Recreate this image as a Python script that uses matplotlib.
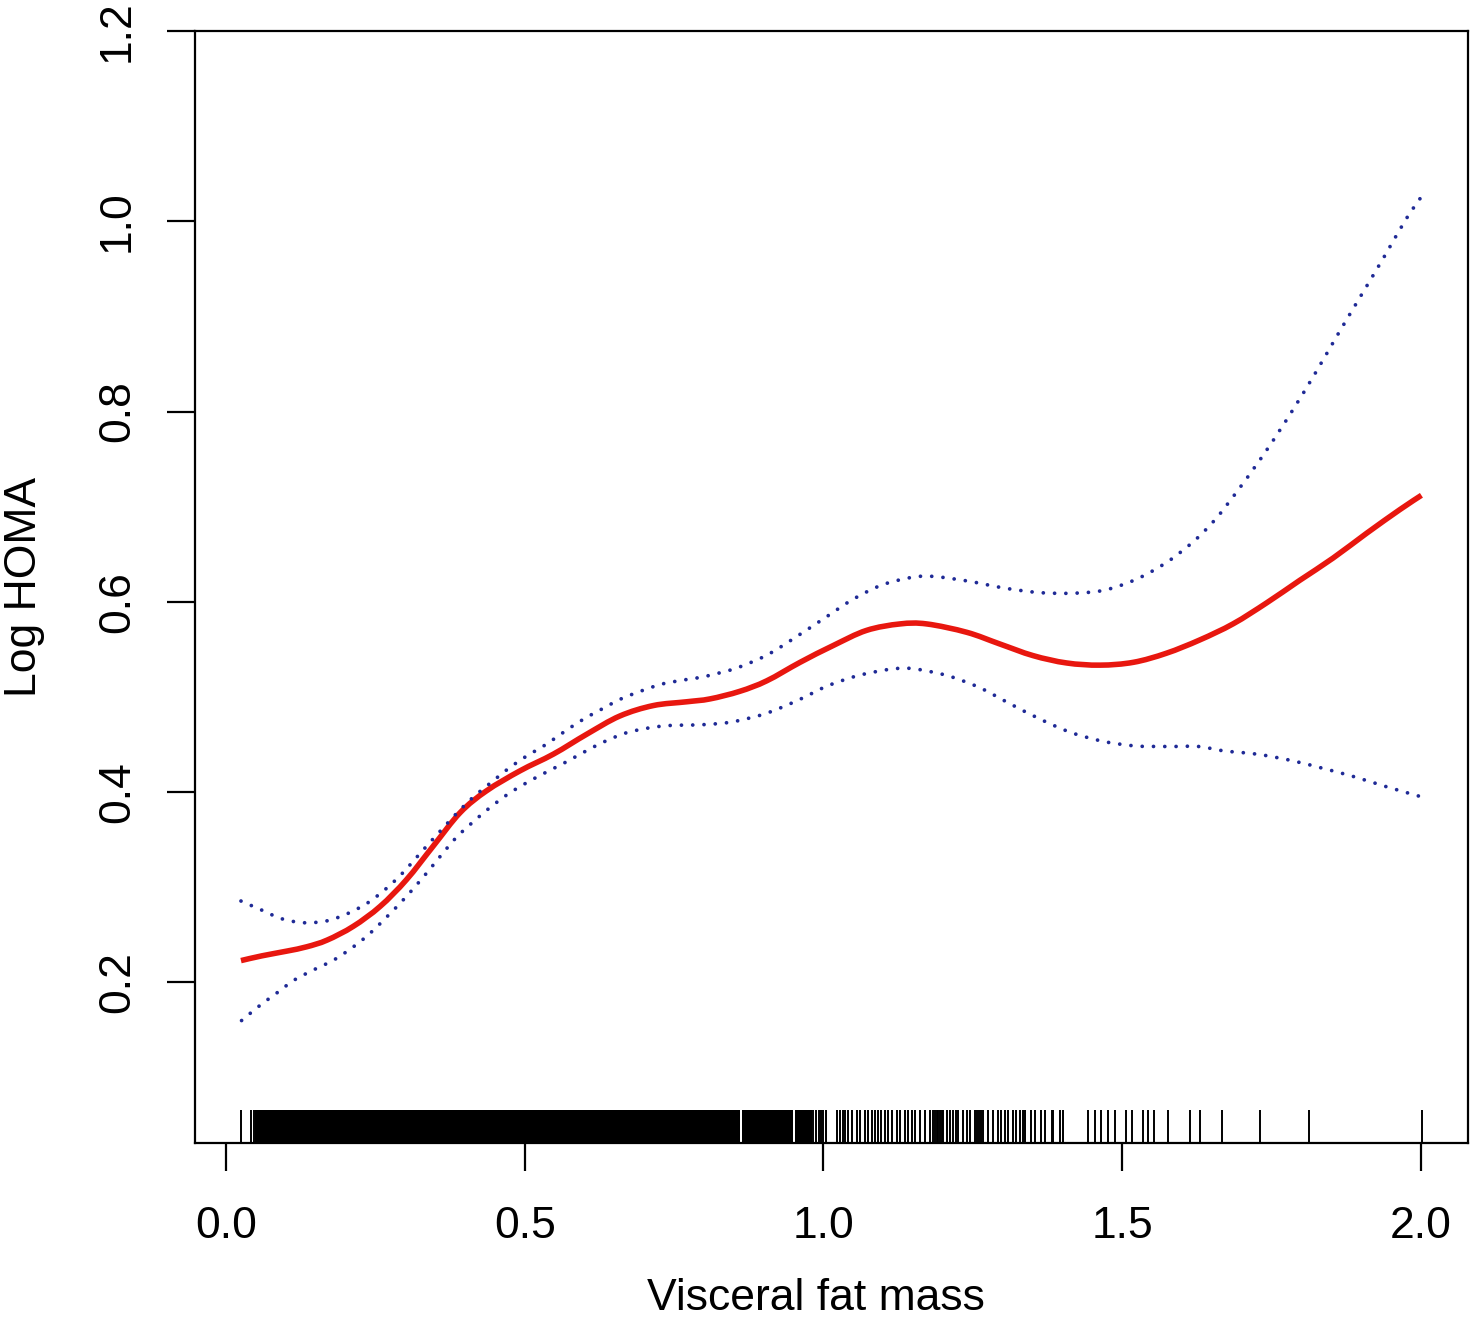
import numpy as np
import matplotlib
matplotlib.use('Agg')
import matplotlib.pyplot as plt
from matplotlib.path import Path
from matplotlib.patches import PathPatch

plt.rcParams['font.family'] = ['Liberation Sans', 'DejaVu Sans']

# curva stimata (rossa)
fit_x = [0.025, 0.060, 0.102, 0.135, 0.169, 0.213, 0.258, 0.302, 0.347, 0.392,
		 0.436, 0.492, 0.548, 0.604, 0.659, 0.715, 0.771, 0.810, 0.860, 0.905,
		 0.961, 1.016, 1.072, 1.128, 1.173, 1.240, 1.295, 1.351, 1.407, 1.463,
		 1.519, 1.574, 1.630, 1.686, 1.742, 1.797, 1.853, 1.909, 1.965, 2.001]
fit_y = [0.223, 0.228, 0.233, 0.2375, 0.2445, 0.259, 0.280, 0.308, 0.3435, 0.3786,
		 0.4014, 0.4224, 0.440, 0.461, 0.480, 0.491, 0.495, 0.498, 0.506, 0.517,
		 0.5365, 0.554, 0.570, 0.5768, 0.5768, 0.568, 0.5558, 0.5435, 0.5358, 0.5335,
		 0.5365, 0.546, 0.560, 0.577, 0.599, 0.6225, 0.646, 0.672, 0.697, 0.712]

# limite superiore (blu, punteggiato)
up_x = [0.025, 0.060, 0.093, 0.129, 0.167, 0.202, 0.235, 0.263, 0.291, 0.315,
		0.340, 0.364, 0.389, 0.416, 0.445, 0.473, 0.503, 0.534, 0.565, 0.596,
		0.628, 0.661, 0.696, 0.730, 0.767, 0.803, 0.857, 0.908, 0.955, 1.002,
		1.049, 1.099, 1.154, 1.191, 1.246, 1.301, 1.357, 1.411, 1.468, 1.521,
		1.570, 1.615, 1.655, 1.700, 1.743, 1.784, 1.823, 1.861, 1.899, 1.938,
		1.975, 2.000]
up_y = [0.2856, 0.276, 0.267, 0.2628, 0.2645, 0.272, 0.2828, 0.296, 0.312, 0.3287,
		0.3463, 0.3628, 0.3797, 0.396, 0.4108, 0.425, 0.4379, 0.4495, 0.463, 0.4758,
		0.487, 0.498, 0.5066, 0.5137, 0.518, 0.5218, 0.531, 0.545, 0.5635, 0.583,
		0.6025, 0.618, 0.6263, 0.6263, 0.6214, 0.6147, 0.610, 0.609, 0.6120, 0.623,
		0.6397, 0.661, 0.686, 0.7225, 0.7605, 0.800, 0.840, 0.881, 0.921, 0.962,
		1.002, 1.025]

# limite inferiore (blu, punteggiato)
low_x = [0.026, 0.055, 0.085, 0.114, 0.148, 0.180, 0.211, 0.239, 0.266, 0.291,
		 0.315, 0.340, 0.363, 0.387, 0.414, 0.442, 0.472, 0.502, 0.535, 0.567,
		 0.600, 0.633, 0.668, 0.703, 0.739, 0.777, 0.815, 0.852, 0.905, 0.958,
		 1.008, 1.061, 1.116, 1.153, 1.208, 1.261, 1.310, 1.360, 1.411, 1.464,
		 1.520, 1.577, 1.628, 1.669, 1.725, 1.781, 1.834, 1.888, 1.941, 1.996]
low_y = [0.160, 0.175, 0.189, 0.2025, 0.2137, 0.2235, 0.2365, 0.2505, 0.267, 0.283,
		 0.2997, 0.3182, 0.336, 0.3534, 0.369, 0.3839, 0.398, 0.4095, 0.4207, 0.431,
		 0.4424, 0.453, 0.462, 0.467, 0.470, 0.4705, 0.4716, 0.4744, 0.483, 0.4968,
		 0.512, 0.523, 0.5295, 0.5295, 0.5224, 0.510, 0.4937, 0.4776, 0.4635, 0.454,
		 0.4487, 0.448, 0.448, 0.4435, 0.440, 0.4336, 0.4254, 0.4163, 0.406, 0.396]

# rug: tratti fitti (intervalli pieni) e tratti singoli
rug_dense = [(0.049, 0.861), (0.864, 0.949), (0.952, 0.981)]
rug_single = [0.025, 0.041, 0.046,
			  0.983, 0.987, 0.992, 0.996, 0.999, 1.004, 1.022, 1.027, 1.032, 1.036,
			  1.041, 1.047, 1.056, 1.061, 1.069, 1.074, 1.081, 1.086, 1.091, 1.097,
			  1.103, 1.108, 1.114, 1.123, 1.128, 1.136, 1.141, 1.148, 1.153, 1.162,
			  1.170, 1.178, 1.183, 1.187, 1.190, 1.192, 1.195, 1.198, 1.200, 1.206,
			  1.212, 1.217, 1.222, 1.225, 1.233, 1.240, 1.245, 1.254, 1.257, 1.260,
			  1.264, 1.267, 1.275, 1.284, 1.292, 1.298, 1.304, 1.309, 1.317, 1.323,
			  1.329, 1.334, 1.337, 1.348, 1.354, 1.365, 1.371, 1.382, 1.384, 1.396,
			  1.401, 1.443, 1.454, 1.465, 1.476, 1.488, 1.506, 1.517, 1.535, 1.543,
			  1.554, 1.576, 1.613, 1.631, 1.667, 1.731, 1.812, 2.002]

x_ticks = [0.0, 0.5, 1.0, 1.5, 2.0]
y_ticks = [0.2, 0.4, 0.6, 0.8, 1.0, 1.2]


def curva_liscia(x, y):
	"""Path Bezier (Catmull-Rom) che passa per i punti letti."""
	p = np.column_stack([x, y]).astype(float)
	p_ext = np.vstack([p[0], p, p[-1]])
	verts = [p[0]]
	codes = [Path.MOVETO]
	for i in range(1, len(p_ext) - 2):
		c1 = p_ext[i] + (p_ext[i + 1] - p_ext[i - 1]) / 6
		c2 = p_ext[i + 1] - (p_ext[i + 2] - p_ext[i]) / 6
		verts += [c1, c2, p_ext[i + 1]]
		codes += [Path.CURVE4] * 3
	return Path(verts, codes)


fig = plt.figure(figsize=(14.76, 13.17), dpi=100)
ax = fig.add_axes([0.1321, 0.1319, 0.8625, 0.8446])

blu = '#1f2a96'
ax.add_patch(PathPatch(curva_liscia(fit_x, fit_y), fill=False, edgecolor='#e8170f', lw=4.0, capstyle='butt'))
ax.add_patch(PathPatch(curva_liscia(up_x, up_y), fill=False, edgecolor=blu, lw=2.7,
					   linestyle=(0, (0.01, 3.0)), capstyle='round'))
ax.add_patch(PathPatch(curva_liscia(low_x, low_y), fill=False, edgecolor=blu, lw=2.7,
					   linestyle=(0, (0.01, 3.0)), capstyle='round'))

trans = ax.get_xaxis_transform()
for x0, x1 in rug_dense:
	ax.axvspan(x0, x1, ymin=0, ymax=0.0297, color='black', lw=0)
ax.vlines(rug_single, 0, 0.0297, transform=trans, color='black', lw=1.4)

ax.set_xlim(-0.052, 2.079)
ax.set_ylim(0.031, 1.2)
ax.set_xticks(x_ticks)
ax.set_xticklabels([f'{v:.1f}' for v in x_ticks])
ax.set_yticks(y_ticks)
ax.set_yticklabels([f'{v:.1f}' for v in y_ticks], rotation=90, va='center')

for sp in ax.spines.values():
	sp.set_linewidth(1.6)
ax.tick_params(axis='both', direction='out', length=20, width=1.6, labelsize=32)
ax.tick_params(axis='x', pad=25)
ax.tick_params(axis='y', pad=21)

ax.set_xlabel('Visceral fat mass', fontsize=32)
ax.set_ylabel('Log HOMA', fontsize=32)
ax.xaxis.set_label_coords(0.488, -0.121)
ax.yaxis.set_label_coords(-0.118, 0.5)

fig.savefig('out.png', dpi=100)
